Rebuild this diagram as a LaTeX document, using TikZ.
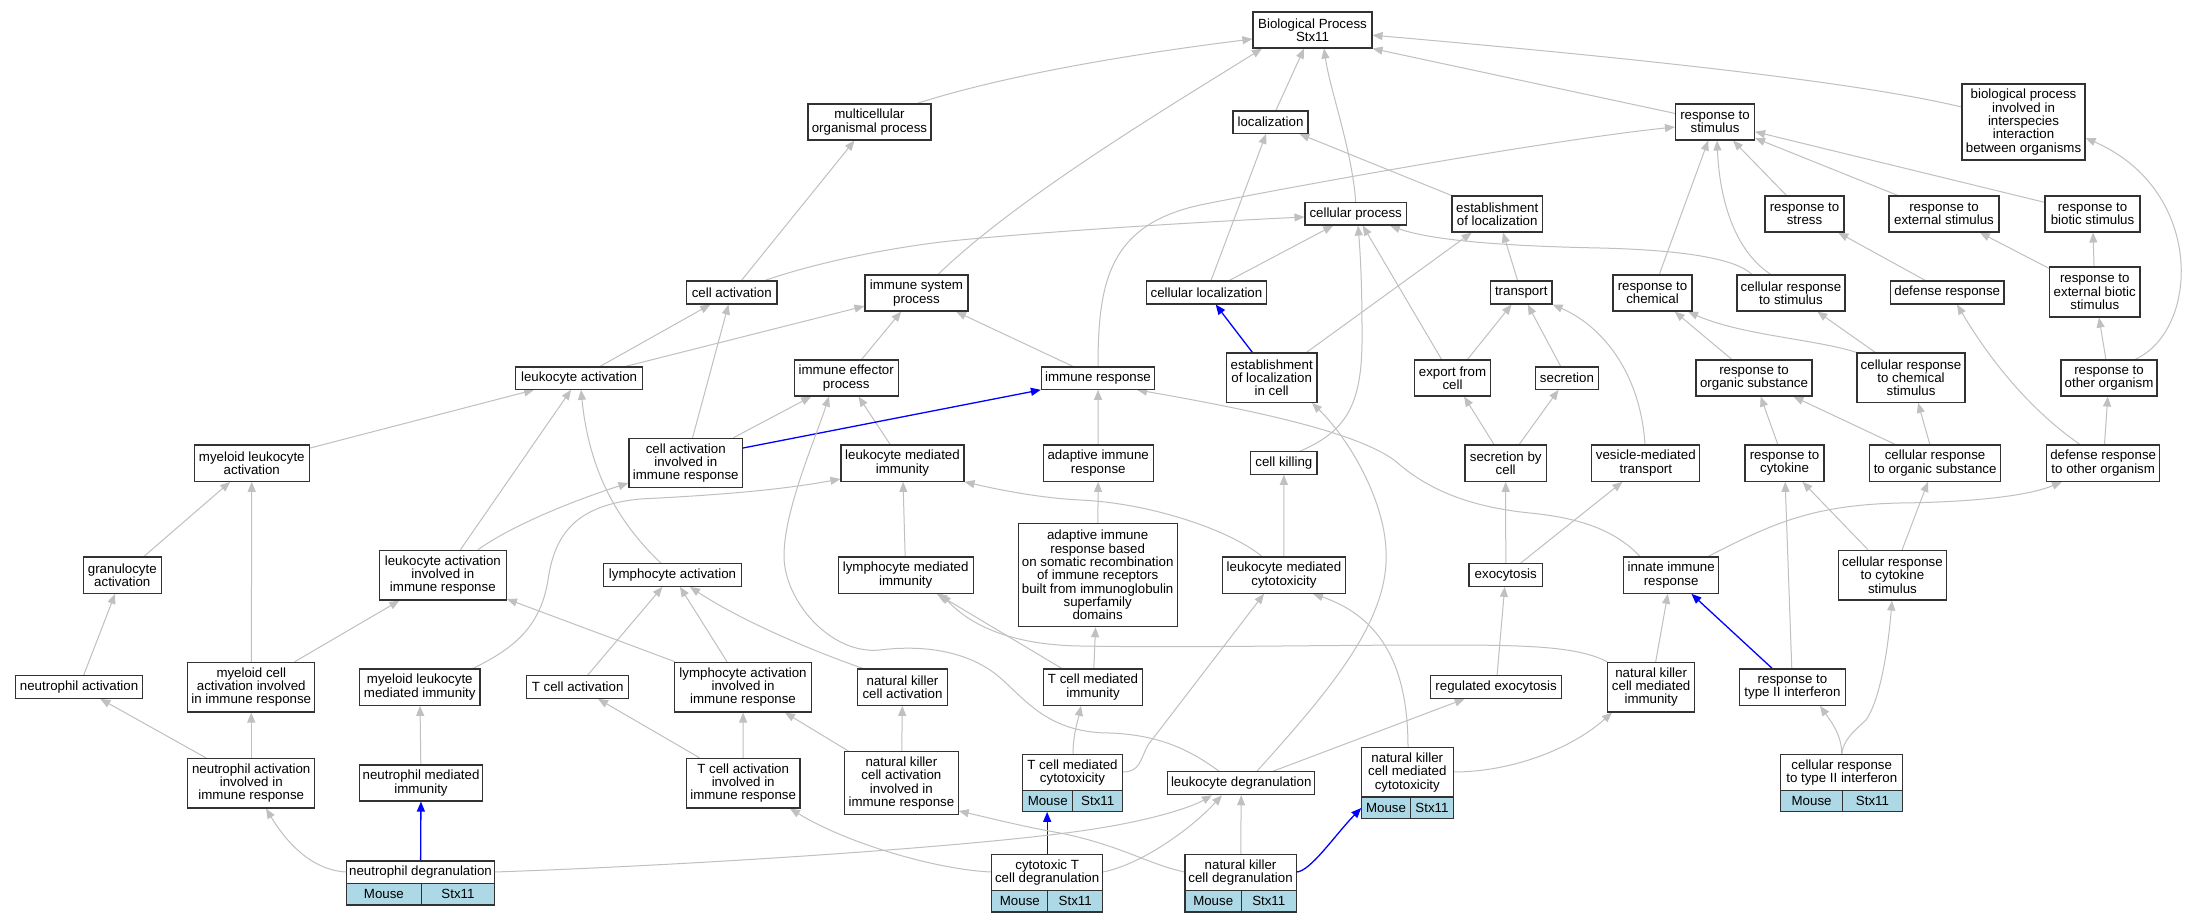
\documentclass[tikz,border=0pt]{standalone}
\usepackage{fontspec}
\setmainfont{Liberation Sans}
\usetikzlibrary{arrows.meta,backgrounds}
\definecolor{lblue}{RGB}{173,216,230}
\definecolor{egray}{RGB}{192,192,192}
\definecolor{bordc}{RGB}{50,50,50}
\tikzset{
  gbox/.style={draw=bordc, line width=1.1pt, fill=white, inner sep=0pt, align=center, font=\fontsize{13.3}{13.33}\selectfont},
  cbox/.style={gbox, fill=lblue},
  rbox/.style={inner sep=0pt, draw=none, rectangle},
  ed/.style={draw=egray, line width=1pt, -{Triangle[length=10pt,width=8pt]}},
  bed/.style={draw=blue, line width=1.3pt, -{Triangle[length=10pt,width=8pt]}},
}
\newcommand\gonode[6]{\node[gbox, minimum width={#4-#2}, minimum height={#5-#3}] (#1) at ({(#2+#4)/2},{(#3+#5)/2}) {#6};}
\newcommand\gorec[8]{%
  \node[rbox, minimum width={#6-#2}, minimum height={#7-#3}] (#1) at ({(#2+#6)/2},{(#3+#7)/2}) {};
  \node[gbox, minimum width={#6-#2}, minimum height={#5-#3}] (#1-t) at ({(#2+#6)/2},{(#3+#5)/2}) {#8};
  \node[cbox, minimum width={#4-#2}, minimum height={#7-#5}] (#1-m) at ({(#2+#4)/2},{(#5+#7)/2}) {Mouse};
  \node[cbox, minimum width={#6-#4}, minimum height={#7-#5}] (#1-s) at ({(#4+#6)/2},{(#5+#7)/2}) {Stx11};
}
\begin{document}
\begin{tikzpicture}[x=1pt,y=-1pt]
\useasboundingbox (0,0) rectangle (2188,923);
\gonode{bp}{1253}{12}{1372}{48}{Biological Process\\Stx11}
\gonode{mop}{808}{104}{931}{140}{multicellular\\organismal process}
\gonode{loc}{1233}{111}{1308}{133.3}{localization}
\gonode{rs}{1675.5}{104}{1754.5}{140}{response to\\stimulus}
\gonode{bpi}{1962}{84}{2085}{160}{biological process\\involved in\\interspecies\\interaction\\between organisms}
\gonode{cp}{1305}{202.3}{1406.4}{225}{cellular process}
\gonode{eloc}{1452}{196}{1542.5}{232}{establishment\\of localization}
\gonode{rstr}{1765}{196}{1844}{232}{response to\\stress}
\gonode{rext}{1889}{196}{1999}{232}{response to\\external stimulus}
\gonode{rbio}{2045}{196}{2140}{232}{response to\\biotic stimulus}
\gonode{ca}{686.5}{281}{777}{304}{cell activation}
\gonode{isp}{865}{275}{968}{311}{immune system\\process}
\gonode{cl}{1146.5}{281}{1266.5}{304}{cellular localization}
\gonode{tr}{1490.5}{281}{1552}{304}{transport}
\gonode{rch}{1613}{275}{1692}{311}{response to\\chemical}
\gonode{crs}{1737}{275}{1845}{311}{cellular response\\to stimulus}
\gonode{dr}{1890.5}{281}{2004}{304}{defense response}
\gonode{reb}{2049.5}{267}{2140}{317}{response to\\external biotic\\stimulus}
\gonode{la}{515.7}{367}{642.5}{389.3}{leukocyte activation}
\gonode{iep}{794.3}{360}{898.2}{396}{immune effector\\process}
\gonode{ir}{1041.4}{367}{1154.6}{389.3}{immune response}
\gonode{elic}{1226.4}{353}{1317}{402.3}{establishment\\of localization\\in cell}
\gonode{exp}{1414.3}{360}{1490.7}{396}{export from\\cell}
\gonode{sec}{1535.7}{367}{1598.2}{389.3}{secretion}
\gonode{ros}{1696}{360}{1812}{396}{response to\\organic substance}
\gonode{ccs}{1857}{353}{1965}{402.3}{cellular response\\to chemical\\stimulus}
\gonode{rto}{2061}{360}{2157}{396}{response to\\other organism}
\gonode{mla}{194.3}{445}{309.3}{481.3}{myeloid leukocyte\\activation}
\gonode{caiir}{629}{438.3}{742.5}{487.7}{cell activation\\involved in\\immune response}
\gonode{lmi}{841}{445}{964}{481.3}{leukocyte mediated\\immunity}
\gonode{air}{1043.2}{445}{1153.2}{481.3}{adaptive immune\\response}
\gonode{ck}{1250.7}{451.7}{1317}{474.3}{cell killing}
\gonode{sbc}{1465}{445}{1546.4}{481.3}{secretion by\\cell}
\gonode{vmt}{1591.8}{445}{1699.8}{481.3}{vesicle-mediated\\transport}
\gonode{rcy}{1745}{445}{1824}{481.3}{response to\\cytokine}
\gonode{cros}{1869.4}{445}{2000.8}{481.3}{cellular response\\to organic substance}
\gonode{drto}{2046.6}{445}{2159.8}{481.3}{defense response\\to other organism}
\gonode{gra}{83.2}{557}{161.4}{593.3}{granulocyte\\activation}
\gonode{laiir}{379.3}{550.3}{506.4}{600}{leukocyte activation\\involved in\\immune response}
\gonode{lya}{603.6}{563.7}{741.4}{586.3}{lymphocyte activation}
\gonode{lymi}{838.2}{557}{973.2}{593.3}{lymphocyte mediated\\immunity}
\gonode{aird}{1018.2}{523.7}{1177.1}{626.7}{adaptive immune\\response based\\on somatic recombination\\of immune receptors\\built from immunoglobulin\\superfamily\\domains}
\gonode{lmc}{1222.5}{557}{1345.4}{593.3}{leukocyte mediated\\cytotoxicity}
\gonode{exo}{1469}{563.7}{1542.5}{586.3}{exocytosis}
\gonode{inn}{1623.6}{557}{1718.7}{593.3}{innate immune\\response}
\gonode{ccsc}{1838.7}{550.3}{1946.2}{600}{cellular response\\to cytokine\\stimulus}
\gonode{na}{15.7}{675.7}{142.5}{698.3}{neutrophil activation}
\gonode{mcaiir}{187.9}{662.3}{314.6}{712}{myeloid cell\\activation involved\\in immune response}
\gonode{mlmi}{359.6}{669}{480}{705.3}{myeloid leukocyte\\mediated immunity}
\gonode{tca}{526.4}{675.7}{628.9}{698.3}{T cell activation}
\gonode{lyaiir}{674.3}{662.3}{811.8}{712}{lymphocyte activation\\involved in\\immune response}
\gonode{nkca}{857.1}{669}{947.9}{705.3}{natural killer\\cell activation}
\gonode{tcmi}{1043.6}{669}{1142.5}{705.3}{T cell mediated\\immunity}
\gonode{rex}{1430.7}{675.7}{1561.4}{698.3}{regulated exocytosis}
\gonode{nkcmi}{1607.9}{662.3}{1694.4}{712}{natural killer\\cell mediated\\immunity}
\gonode{rtii}{1739.8}{669}{1845.1}{705.3}{response to\\type II interferon}
\gonode{naiir}{187.9}{758.3}{314.6}{808}{neutrophil activation\\involved in\\immune response}
\gonode{nmi}{359.6}{765}{482.5}{801}{neutrophil mediated\\immunity}
\gonode{tcaiir}{686.4}{758.3}{800}{808}{T cell activation\\involved in\\immune response}
\gonode{nkcaiir}{844.6}{751.7}{958.2}{814.7}{natural killer\\cell activation\\involved in\\immune response}
\gonode{lde}{1167.9}{771.7}{1314.6}{794.7}{leukocyte degranulation}
\gorec{tcmc}{1022.5}{754.3}{1072.9}{790.3}{1122.5}{811.7}{T cell mediated\\cytotoxicity}
\gorec{nkcmc}{1361.4}{747.7}{1410.7}{797}{1453.2}{818.7}{natural killer\\cell mediated\\cytotoxicity}
\gorec{crtii}{1780.9}{754.3}{1842.3}{790.3}{1902.6}{811.7}{cellular response\\to type II interferon}
\gorec{ndeg}{346.4}{861}{421.4}{883.3}{494.6}{905}{neutrophil degranulation}
\gorec{ctcd}{991.8}{854.7}{1047.9}{890.3}{1102.5}{912}{cytotoxic T\\cell degranulation}
\gorec{nkcd}{1185}{854.7}{1241.4}{890.3}{1296.1}{912}{natural killer\\cell degranulation}
\begin{scope}[on background layer]
\fill[white] (0,0) rectangle (2188,923);
% straight connectors
\draw[ed] (la) -- (ca);
\draw[ed] (la) -- (isp);
\draw[ed] (mla) -- (la);
\draw[ed] (caiir) -- (ca);
\draw[ed] (iep) -- (isp);
\draw[ed] (ir) -- (isp);
\draw[ed] (caiir) -- (iep);
\draw[ed] (lmi) -- (iep);
\draw[ed] (air) -- (ir);
\draw[ed] (aird) -- (air);
\draw[ed] (tcmi) -- (aird);
\draw[ed] (cl) -- (loc);
\draw[ed] (cl) -- (cp);
\draw[ed] (eloc) -- (loc);
\draw[ed] (elic) -- (eloc);
\draw[bed] (elic) -- (cl);
\draw[ed] (loc) -- (bp);
\draw[ed] (exp) -- (cp);
\draw[ed] (tr) -- (eloc);
\draw[ed] (exp) -- (tr);
\draw[ed] (sec) -- (tr);
\draw[ed] (sbc) -- (exp);
\draw[ed] (sbc) -- (sec);
\draw[ed] (exo) -- (sbc);
\draw[ed] (exo) -- (vmt);
\draw[ed] (rex) -- (exo);
\draw[ed] (lmc) -- (ck);
\draw[ed] (rstr) -- (rs);
\draw[ed] (rext) -- (rs);
\draw[ed] (rbio) -- (rs);
\draw[ed] (rch) -- (rs);
\draw[ed] (dr) -- (rstr);
\draw[ed] (reb) -- (rext);
\draw[ed] (reb) -- (rbio);
\draw[ed] (rto) -- (reb);
\draw[ed] (ros) -- (rch);
\draw[ed] (ccs) -- (crs);
\draw[ed] (rcy) -- (ros);
\draw[ed] (cros) -- (ros);
\draw[ed] (cros) -- (ccs);
\draw[ed] (drto) -- (rto);
\draw[ed] (rtii) -- (rcy);
\draw[ed] (ccsc) -- (rcy);
\draw[ed] (ccsc) -- (cros);
\draw[bed] (rtii) -- (inn);
\draw[ed] (nkcmi) -- (inn);
\draw[ed] (gra) -- (mla);
\draw[ed] (mcaiir) -- (mla);
\draw[ed] (na) -- (gra);
\draw[ed] (mcaiir) -- (laiir);
\draw[ed] (naiir) -- (na);
\draw[ed] (naiir) -- (mcaiir);
\draw[ed] (nmi) -- (mlmi);
\draw[bed] (ndeg) -- (nmi);
\draw[ed] (tca) -- (lya);
\draw[ed] (lyaiir) -- (lya);
\draw[ed] (tcaiir) -- (tca);
\draw[ed] (tcaiir) -- (lyaiir);
\draw[ed] (nkcaiir) -- (lyaiir);
\draw[ed] (nkcaiir) -- (nkca);
\draw[ed] (lymi) -- (lmi);
\draw[ed] (tcmi) -- (lymi);
\draw[ed] (nkcd) -- (lde);
\draw[ed] (lde) -- (rex);
\draw[ed] (lyaiir) -- (laiir);
\draw[ed] (laiir) -- (la);
\draw[ed] (ca) -- (mop);
\draw[ed] (rs) -- (bp.south east);
\draw[bed] (caiir.east |- 0,448) -- (ir.south west);
\draw[bed] (ctcd.north) -- (ctcd.north |- tcmc.south);
% curved connectors
\draw[ed] (mop.north -| 917,0) .. controls (990,80) and (1100,58) .. (bp.west |- 0,39);
\draw[ed] (isp.north -| 938,0) .. controls (1020,195) and (1180,100) .. (bp.south -| 1262,0);
\draw[ed] (cp.north) .. controls (1352,150) and (1330,90) .. (bp.south -| 1324,0);
\draw[ed] (bpi) .. controls (1850,80) and (1600,55) .. (bp);
\draw[ed] (ir.north) .. controls (1098,280) and (1110,225) .. (1200,205) .. controls (1300,185) and (1550,140) .. (rs.west |- 0,127);
\draw[ed] (ca.north -| 765,0) .. controls (800,268) and (870,250) .. (950,241) .. controls (1050,231) and (1200,222) .. (cp.west |- 0,217);
\draw[ed] (lde.north -| 1219,0) .. controls (1190,750) and (1160,735) .. (1110,733) .. controls (1040,733) and (1020,690) .. (990,670) .. controls (960,650) and (920,645) .. (880,650) .. controls (830,655) and (784,600) .. (784,556) .. controls (784,510) and (815,440) .. (iep.south -| 829,0);
\draw[ed] (lde.north -| 1257,0) .. controls (1330,690) and (1390,620) .. (1386,550) .. controls (1384,500) and (1350,440) .. (elic.south -| 1312,0);
\draw[ed] (inn.north -| 1640,0) .. controls (1615,530) and (1580,518) .. (1530,513) .. controls (1470,507) and (1430,490) .. (1400,465) .. controls (1365,432) and (1240,408) .. (ir.south -| 1137,0);
\draw[ed] (ck.north -| 1300,0) .. controls (1350,430) and (1363,400) .. (1362,330) .. controls (1362,280) and (1360,250) .. (cp.south -| 1358,0);
\draw[ed] (vmt.north -| 1645,0) .. controls (1640,370) and (1600,325) .. (tr.south east);
\draw[ed] (crs.north -| 1752,0) .. controls (1735,258) and (1680,250) .. (1600,248) .. controls (1500,246) and (1430,240) .. (cp.south -| 1390,0);
\draw[ed] (crs.north -| 1771,0) .. controls (1740,255) and (1720,210) .. (rs.south -| 1717,0);
\draw[ed] (ccs.north west) .. controls (1820,340) and (1740,335) .. (rch.south -| 1688,0);
\draw[ed] (rto.north -| 2135,0) .. controls (2200,330) and (2205,190) .. (bpi.east |- 0,138);
\draw[ed] (drto.north -| 2080,0) .. controls (2030,410) and (1990,360) .. (dr.south -| 1957,0);
\draw[ed] (inn.north -| 1708,0) .. controls (1770,525) and (1810,505) .. (1900,503) .. controls (1980,502) and (2030,495) .. (drto.south -| 2062,0);
\draw[ed] (crtii.north) .. controls (1842,735) and (1830,720) .. (rtii.south -| 1820,0);
\draw[ed] (crtii.north) .. controls (1843,740) and (1855,730) .. (1866,720) .. controls (1880,700) and (1888,650) .. (ccsc.south -| 1892,0);
\draw[ed] (laiir.north -| 478,0) .. controls (505,530) and (560,505) .. (caiir.west |- 0,483);
\draw[ed] (mlmi.north -| 473,0) .. controls (510,650) and (540,630) .. (548,580) .. controls (555,530) and (580,505) .. (640,499) .. controls (720,495) and (780,490) .. (lmi.west |- 0,479);
\draw[ed] (lya.north -| 661,0) .. controls (610,515) and (588,460) .. (la.south -| 581,0);
\draw[ed] (nkca.north -| 863,0) .. controls (810,650) and (740,620) .. (lya.south -| 690,0);
\draw[ed] (ctcd.west |- 0,872) .. controls (940,870) and (850,845) .. (tcaiir.south -| 790,0);
\draw[ed] (ndeg.east |- 0,872) .. controls (700,865) and (1000,845) .. (1100,828) .. controls (1150,820) and (1190,808) .. (lde.south -| 1212,0);
\draw[ed] (ctcd.east |- 0,872) .. controls (1140,865) and (1190,830) .. (lde.south -| 1222,0);
\draw[ed] (nkcd.west |- 0,872) .. controls (1150,865) and (1120,845) .. (1060,833) .. controls (1020,826) and (990,818) .. (nkcaiir.east |- 0,811);
\draw[ed] (tcmc.east |- 0,772) .. controls (1140,772) and (1140,760) .. (1148,745) -- (lmc.south -| 1264,0);
\draw[ed] (lmc.north -| 1262,0) .. controls (1230,530) and (1150,503) .. (1080,500) .. controls (1040,498) and (1000,490) .. (lmi.south east);
\draw[ed] (nkcmi.north west) .. controls (1580,648) and (1540,645) .. (1450,645) .. controls (1300,645) and (1200,648) .. (1080,646) .. controls (1020,645) and (975,630) .. (lymi.south -| 941,0);
\draw[ed] (nkcmc.north -| 1408,0) .. controls (1408,680) and (1390,620) .. (lmc.south -| 1313,0);
\draw[ed] (nkcmc.east |- 0,772) .. controls (1510,772) and (1570,750) .. (nkcmi.south -| 1612,0);
\draw[bed] (nkcd.east |- 0,872) .. controls (1310,872) and (1335,835) .. (nkcmc.west |- 0,808);
\draw[ed] (ndeg.west |- 0,872) .. controls (310,870) and (285,840) .. (naiir.south -| 266,0);
\draw[ed] (tcmc.north -| 1073,0) .. controls (1073,735) and (1078,720) .. (tcmi.south -| 1081,0);
\end{scope}
\end{tikzpicture}
\end{document}
